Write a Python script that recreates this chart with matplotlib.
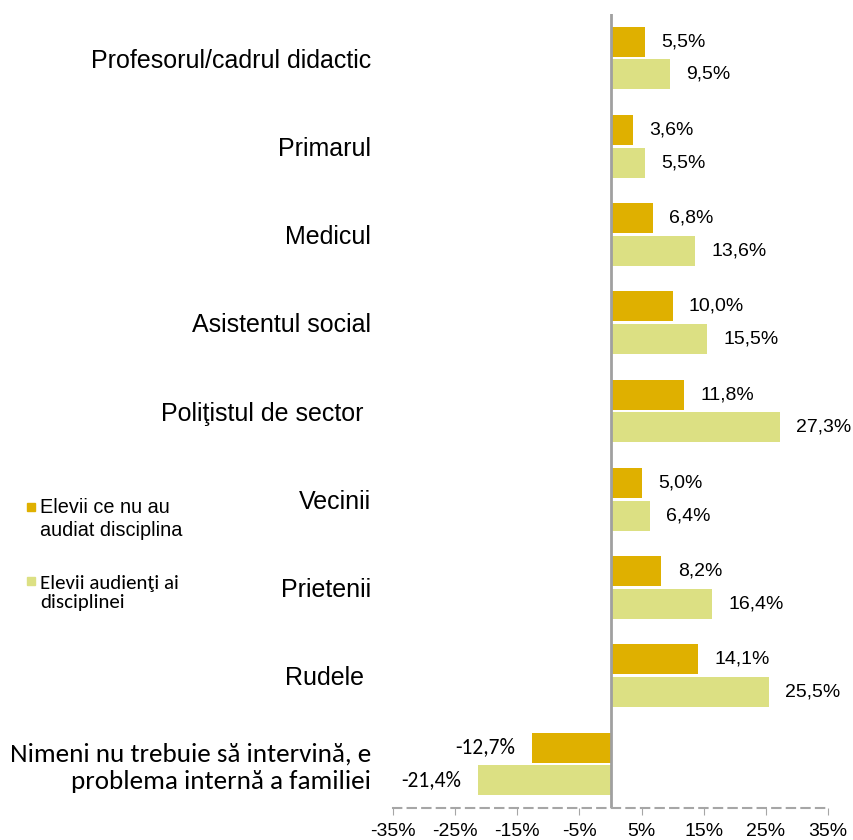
import numpy as np
import matplotlib.pyplot as plt
from matplotlib.patches import Rectangle

categories = ["Profesorul/cadrul didactic", "Primarul", "Medicul", "Asistentul social",
              "Poliţistul de sector ", "Vecinii", "Prietenii", "Rudele ",
              "Nimeni nu trebuie să intervină, e\nproblema internă a familiei"]
nu_au = [5.5, 3.6, 6.8, 10.0, 11.8, 5.0, 8.2, 14.1, -12.7]
audienti = [9.5, 5.5, 13.6, 15.5, 27.3, 6.4, 16.4, 25.5, -21.4]
xticks = [-35, -25, -15, -5, 5, 15, 25, 35]
legend_labels = ["Elevii ce nu au\naudiat disciplina", "Elevii audienţi ai\ndisciplinei"]

c_gold = "#DFB000"
c_light = "#DCE083"

ARIAL = ["Liberation Sans", "DejaVu Sans"]
CALIBRI = ["Carlito", "DejaVu Sans"]
plt.rcParams['font.family'] = ARIAL

W, H = 854, 840
fig = plt.figure(figsize=(8.54, 8.4), dpi=100)
ax = fig.add_axes([0.4602, 0.0381, 0.5094, 0.9452])

y = np.arange(len(categories))
h = 0.34
ax.barh(y - 0.185, nu_au, height=h, color=c_gold)
ax.barh(y + 0.185, audienti, height=h, color=c_light)

def fmt(v):
    return f"{v:.1f}%".replace(".", ",")

for ys, vals in [(y - 0.185, nu_au), (y + 0.185, audienti)]:
    for yy, v in zip(ys, vals):
        if v >= 0:
            ax.text(v + 2.6, yy, fmt(v), va="center", ha="left", fontsize=14, family=ARIAL)
        else:
            ax.text(v - 2.6, yy, fmt(v), va="center", ha="right", fontsize=15.5, family=CALIBRI)

ax.set_xlim(-35, 35)
ax.set_ylim(8.5, -0.5)
ax.set_xticks(xticks)
ax.set_xticklabels([f"{t}%" for t in xticks], fontsize=14, family=ARIAL)
ax.set_yticks(y)
ax.set_yticklabels(categories, fontsize=18, family=ARIAL)
ax.tick_params(axis="y", length=0, pad=16)
ax.tick_params(axis="x", length=5, color="#A6A6A6", pad=6)
last = ax.get_yticklabels()[-1]
last.set_fontfamily(CALIBRI)
last.set_fontsize(19.5)

for s in ["left", "top", "right"]:
    ax.spines[s].set_visible(False)
ax.spines["bottom"].set_color("#A6A6A6")
ax.spines["bottom"].set_linestyle((0, (4, 3)))
ax.spines["bottom"].set_linewidth(1.5)
ax.axvline(0, color="#A0A0A0", lw=2)

# legend drawn by hand: marker sits next to the first line of each label
fig.patches.append(Rectangle((27 / W, 1 - 511 / H), 8 / W, 8 / H, color=c_gold,
                             transform=fig.transFigure, figure=fig))
fig.text(40 / W, 1 - 519 / H, legend_labels[0], va="center", ha="left",
         fontsize=14.3, family=ARIAL, linespacing=1.28)
fig.patches.append(Rectangle((27 / W, 1 - 585 / H), 8 / W, 8 / H, color=c_light,
                             transform=fig.transFigure, figure=fig))
fig.text(40 / W, 1 - 593 / H, legend_labels[1], va="center", ha="left",
         fontsize=15, family=CALIBRI, linespacing=1.15)

fig.savefig("out.png", dpi=100)
